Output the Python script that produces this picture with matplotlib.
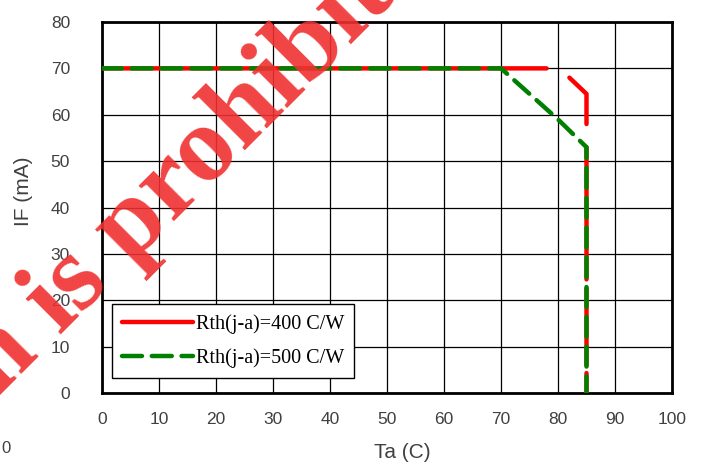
import numpy as np
import matplotlib.pyplot as plt

# данные с графика: IF (mA) от Ta (C)
ta_400 = [0, 78, np.nan, 82, 85, 85, np.nan, 85, 85, np.nan, 85, 85, np.nan, 85, 85]
if_400 = [70, 70, np.nan, 68, 64.5, 58, np.nan, 53, 24.5, np.nan, 22.5, 6, np.nan, 4.3, 0]
ta_500 = [0, 70, 80, 85, 85]
if_500 = [70, 70, 59, 53, 0]
labels = ['Rth(j-a)=400 C/W', 'Rth(j-a)=500 C/W']
wm_text = 'Reproduction is prohibited'

fig = plt.figure(figsize=(7.01, 4.70), dpi=100)
ax = fig.add_axes([102 / 701, 1 - 393 / 470, 570 / 701, 371 / 470])

ax.plot(ta_400, if_400, color='#ff0000', lw=3.2, solid_capstyle='round', label=labels[0], zorder=3)
ax.plot(ta_500, if_500, color='#008000', lw=3.2, dashes=(4.5, 2.2), dash_capstyle='round',
        label=labels[1], zorder=4)

ax.set_xlim(0, 100)
ax.set_ylim(0, 80)
ax.set_xticks(range(0, 101, 10))
ax.set_yticks(range(0, 81, 10))
ax.grid(True, color='black', lw=0.9)
ax.set_axisbelow(True)
for s in ax.spines.values():
    s.set_linewidth(2.0)
ax.tick_params(length=0, labelsize=12.5, labelcolor='#404040')
for t in ax.get_xticklabels() + ax.get_yticklabels():
    t.set_fontfamily('Liberation Sans')
ax.tick_params(axis='y', pad=23)
ax.tick_params(axis='x', pad=14)

ax.set_xlabel('Ta (C)', fontsize=15, color='#404040', family='Liberation Sans')
ax.xaxis.set_label_coords(0.526, -0.135)
ax.set_ylabel('IF (mA)', fontsize=15, color='#404040', family='Liberation Sans')
ax.yaxis.set_label_coords(-0.121, 0.544)

leg = ax.legend(loc='lower left', bbox_to_anchor=(0.0175, 0.04), fancybox=False,
                framealpha=1, edgecolor='black', handlelength=3.5, borderpad=0.5,
                labelspacing=0.7, handletextpad=0.15, borderaxespad=0,
                prop={'family': 'Liberation Serif', 'size': 14.5})
leg.get_frame().set_linewidth(1.0)
leg.set_zorder(5)

# водяной знак: "i" из "is" примерно в (60, 336) px
wm_font = dict(fontsize=78, family='Liberation Serif', fontweight='bold')
r = fig.canvas.get_renderer()
t1 = fig.text(0, 0, 'Reproduction is', **wm_font)
t2 = fig.text(0, 0, 'is', **wm_font)
shift = t1.get_window_extent(r).width - t2.get_window_extent(r).width
t1.remove()
t2.remove()
ang = np.deg2rad(45)
x0 = 60 - shift * np.cos(ang)
y0 = (470 - 336) - shift * np.sin(ang)
fig.text(x0 / 701, y0 / 470, wm_text, rotation=45, rotation_mode='anchor',
         ha='left', va='baseline', color='#f03030', alpha=0.9, zorder=10, **wm_font)
fig.text(0.002, 0.037, '0', fontsize=12, color='#404040', family='Liberation Sans')

fig.savefig('out.png', dpi=100)
